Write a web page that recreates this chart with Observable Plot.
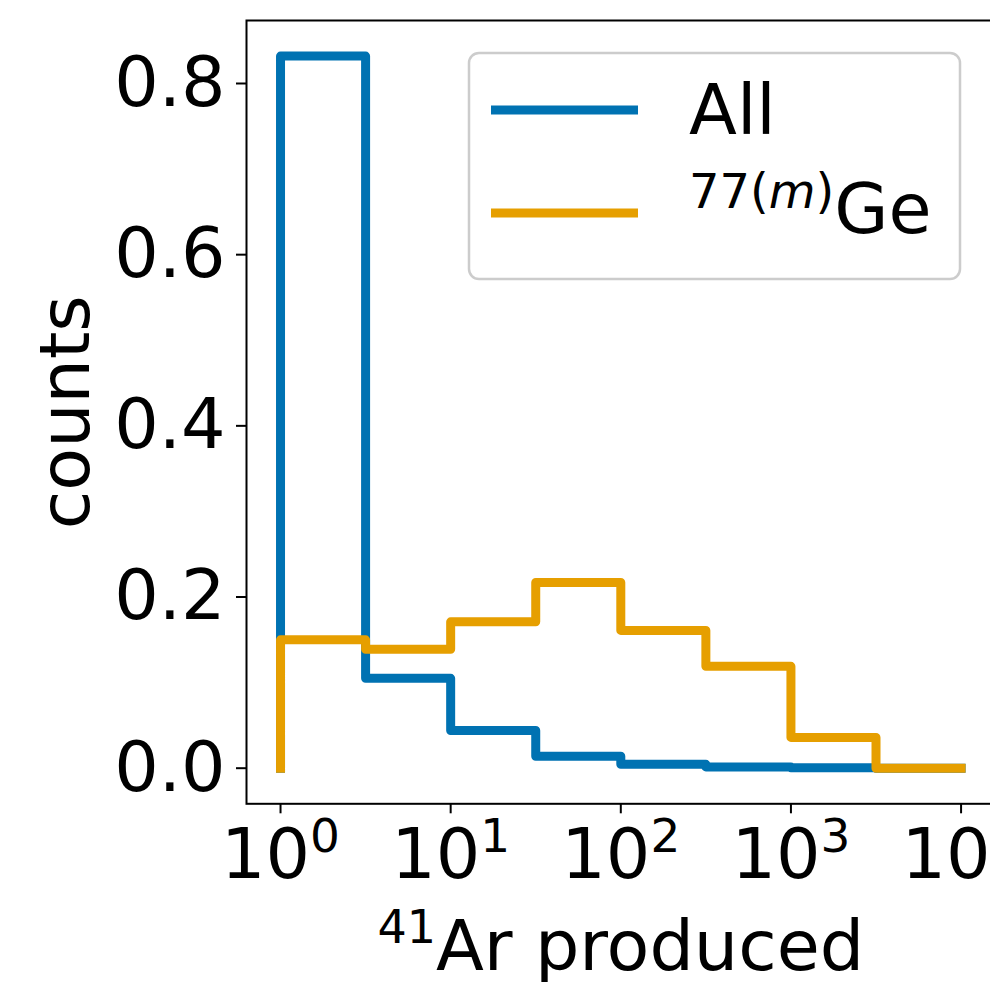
<!DOCTYPE html>
<html><head><meta charset="utf-8">
<script src="https://cdn.jsdelivr.net/npm/d3@7"></script>
<script src="https://cdn.jsdelivr.net/npm/@observablehq/plot@0.6"></script>
<style>
html,body{margin:0;padding:0;background:#fff;overflow:hidden;}
#chart{width:990px;height:982px;overflow:hidden;}
</style></head><body><div id="chart"></div>
<script>
// Histogram bin edges (half-decade bins, 10^0 ... 10^4)
const binEdges = [1, 3.1623, 10, 31.623, 100, 316.23, 1000, 3162.3, 10000];
// Normalised counts per bin
const allCounts = [0.832, 0.105, 0.044, 0.014, 0.0045, 0.0015, 0.0005, 0];
const geCounts  = [0.150, 0.139, 0.171, 0.217, 0.161, 0.119, 0.036, 0];
const seriesNames  = ["All", "77(m)Ge"];
const seriesColors = ["#0072B2", "#E69F00"];
const xTicks = [1, 10, 100, 1000, 10000];
const yTicks = [0, 0.2, 0.4, 0.6, 0.8];
const xLabelText = "Ar produced";
const yLabelText = "counts";

function stepVertices(edges, values, series) {
  const pts = [{x: edges[0], y: 0, series}];
  values.forEach((v, i) => {
    pts.push({x: edges[i], y: v, series});
    pts.push({x: edges[i + 1], y: v, series});
  });
  pts.push({x: edges[edges.length - 1], y: 0, series});
  return pts;
}
const allPts = stepVertices(binEdges, allCounts, seriesNames[0]);
const gePts  = stepVertices(binEdges, geCounts, seriesNames[1]);

const chart = Plot.plot({
  width: 990, height: 982,
  marginLeft: 246, marginRight: -4.6, marginTop: 20, marginBottom: 178.7,
  style: {fontFamily: "DejaVu Sans", fontSize: "70px", background: "white", color: "black"},
  x: {type: "log", domain: [Math.pow(10, -0.2), Math.pow(10, 4.2)]},
  y: {domain: [-0.0416, 0.8736]},
  marks: [
    Plot.line(allPts, {x: "x", y: "y", stroke: seriesColors[0], strokeWidth: 9, strokeLinejoin: "round", strokeLinecap: "square"}),
    Plot.line(gePts,  {x: "x", y: "y", stroke: seriesColors[1], strokeWidth: 9, strokeLinejoin: "round", strokeLinecap: "square"}),
    Plot.frame({stroke: "black", strokeWidth: 2}),
    Plot.axisX({ticks: xTicks, tickFormat: d => String(Math.round(Math.log10(d))), tickSize: 10, tickPadding: 14.5, fontSize: 70, strokeWidth: 2, label: null}),
    Plot.axisY({ticks: yTicks, tickFormat: d => d.toFixed(1), tickSize: 10, tickPadding: 11, fontSize: 70, strokeWidth: 2, label: null}),
    Plot.text([yLabelText], {frameAnchor: "left", text: d => d, rotate: -90, textAnchor: "middle", lineAnchor: "bottom", dx: -158, fontSize: 70}),
    Plot.text([xLabelText], {frameAnchor: "bottom", text: d => d, textAnchor: "middle", lineAnchor: "bottom", dy: 165.7, fontSize: 70})
  ]
});
document.getElementById("chart").appendChild(chart);

const svg = d3.select(chart);
// superscript exponents on x tick labels
svg.selectAll('g[aria-label="x-axis tick label"] text').each(function () {
  const e = this.textContent;
  const t = d3.select(this);
  t.text("10");
  t.append("tspan").attr("font-size", 47).attr("dy", -26).text(e);
});
// x axis label with superscript
svg.selectAll("text").filter(function () { return this.textContent === xLabelText; }).each(function () {
  const t = d3.select(this);
  t.text("");
  t.append("tspan").attr("font-size", 46).attr("dy", -27).text("41");
  t.append("tspan").attr("font-size", 70).attr("dy", 27).text(xLabelText);
});

// Legend
const lg = svg.append("g").attr("font-family", "DejaVu Sans").attr("text-anchor", "start");
lg.append("rect").attr("x", 469).attr("y", 53).attr("width", 491).attr("height", 226)
  .attr("rx", 10).attr("fill", "white").attr("fill-opacity", 0.8)
  .attr("stroke", "#cccccc").attr("stroke-width", 2.5);
lg.append("line").attr("x1", 491).attr("x2", 638).attr("y1", 110).attr("y2", 110)
  .attr("stroke", seriesColors[0]).attr("stroke-width", 9);
lg.append("line").attr("x1", 491).attr("x2", 638).attr("y1", 213).attr("y2", 213)
  .attr("stroke", seriesColors[1]).attr("stroke-width", 9);
lg.append("text").attr("x", 689).attr("y", 134).attr("font-size", 70).text(seriesNames[0]);
const t2 = lg.append("text").attr("x", 689).attr("y", 233).attr("font-size", 70);
t2.append("tspan").attr("font-size", 48).attr("dy", -25).text("77(");
t2.append("tspan").attr("font-size", 48).attr("font-style", "italic").text("m");
t2.append("tspan").attr("font-size", 48).text(")");
t2.append("tspan").attr("font-size", 70).attr("dy", 25).text("Ge");
</script>
</body></html>
